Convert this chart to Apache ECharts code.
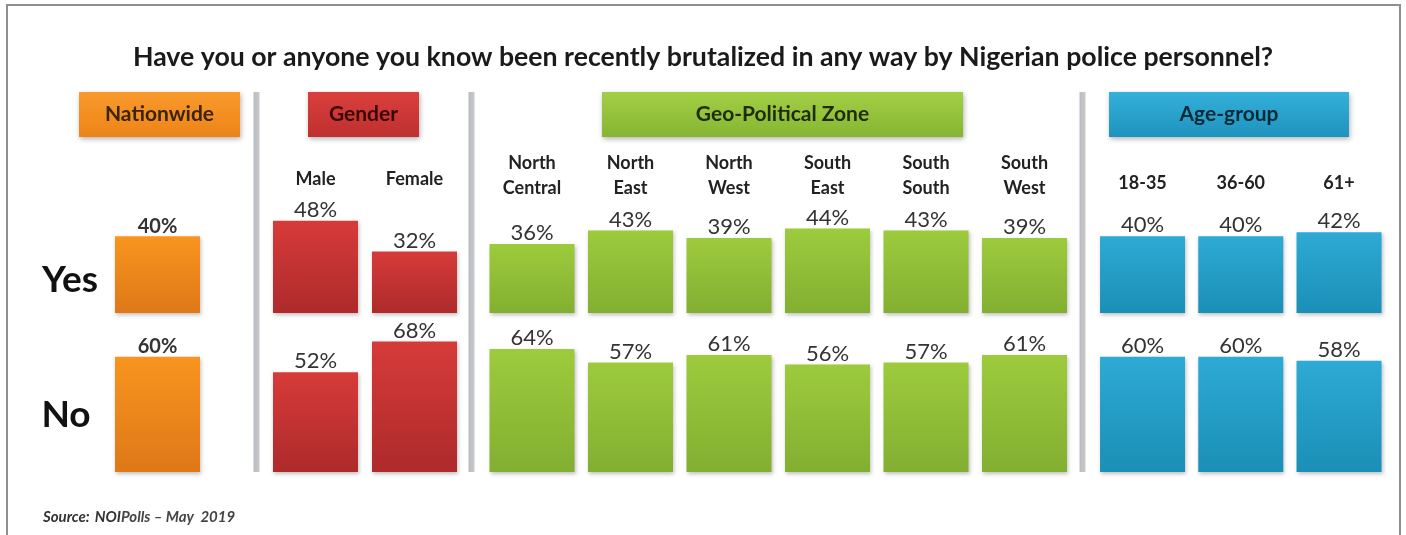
<!DOCTYPE html>
<html>
<head>
<meta charset="utf-8">
<script src="https://cdn.jsdelivr.net/npm/echarts@6/dist/echarts.min.js"></script>
<style>
html,body{margin:0;padding:0;background:#fff;}
#chart{width:1406px;height:535px;}
</style>
</head>
<body>
<div id="chart"></div>
<script>
// ---- Data ----
const titleText = 'Have you or anyone you know been recently brutalized in any way by Nigerian police personnel?';
const groupNames = ['Nationwide', 'Gender', 'Geo-Political Zone', 'Age-group'];
const nationCats = ['Nationwide'];
const genderCats = ['Male', 'Female'];
const geoCats = ['North\nCentral', 'North\nEast', 'North\nWest', 'South\nEast', 'South\nSouth', 'South\nWest'];
const ageCats = ['18-35', '36-60', '61+'];
const nationYes = [40];
const nationNo = [60];
const genderYes = [48, 32];
const genderNo = [52, 68];
const geoYes = [36, 43, 39, 44, 43, 39];
const geoNo = [64, 57, 61, 56, 57, 61];
const ageYes = [40, 40, 42];
const ageNo = [60, 60, 58];
const rowNames = ['Yes', 'No'];

// ---- Layout / styles ----
const FONT = 'Lato, "Open Sans", sans-serif';
const PX = 1.92; // pixels per percent
const yesBottom = 313, noBottom = 472;
const yesMax = 60, noMax = 70;
const groups = [
  {cats: nationCats, yes: nationYes, no: nationNo, left: 108.25, width: 98.5, top: '#F8951F', bot: '#DE7818',
   box: [79, 92, 161, 45], boxColor: ['#FA9A2C', '#EC8418'], boxText: '#3b2305', showCats: false, margin: 0, bold: true},
  {cats: genderCats, yes: genderYes, no: genderNo, left: 266, width: 198, top: '#D63B39', bot: '#AE2A2B',
   box: [308, 92, 111, 45], boxColor: ['#DA3F3D', '#BE302F'], boxText: '#3a0606', showCats: true, margin: 19, bold: false},
  {cats: geoCats, yes: geoYes, no: geoNo, left: 482.75, width: 591, top: '#9DCB3D', bot: '#82AF31',
   box: [602, 92, 361, 45], boxColor: ['#A2CF45', '#86B532'], boxText: '#1e2d08', showCats: true, margin: 22, bold: false},
  {cats: ageCats, yes: ageYes, no: ageNo, left: 1093.4, width: 294.75, top: '#2DAAD5', bot: '#1B8FB6',
   box: [1109, 92, 240, 45], boxColor: ['#34B0DA', '#1E93BD'], boxText: '#082a38', showCats: true, margin: 15, bold: false}
];

const grids = [], xAxes = [], yAxes = [], series = [];
groups.forEach((g, gi) => {
  [0, 1].forEach(r => {
    const idx = grids.length;
    const max = r === 0 ? yesMax : noMax;
    const bottom = r === 0 ? yesBottom : noBottom;
    grids.push({left: g.left, width: g.width, top: bottom - max * PX, height: max * PX, containLabel: false});
    xAxes.push({
      type: 'category', gridIndex: idx, data: g.cats, position: 'top',
      axisLine: {show: false}, axisTick: {show: false}, splitLine: {show: false},
      axisLabel: {
        show: r === 0 && g.showCats, margin: g.margin, verticalAlign: 'middle',
        fontFamily: FONT, fontWeight: 'bold', fontSize: 18, color: '#222', lineHeight: 25, interval: 0
      }
    });
    yAxes.push({type: 'value', gridIndex: idx, min: 0, max: max, show: false, splitLine: {show: false}});
    series.push({
      type: 'bar', xAxisIndex: idx, yAxisIndex: idx, data: r === 0 ? g.yes : g.no,
      barWidth: 85, silent: true,
      itemStyle: {
        color: new echarts.graphic.LinearGradient(0, 0, 0, 1, [{offset: 0, color: g.top}, {offset: 1, color: g.bot}]),
        shadowBlur: 4, shadowOffsetX: 1, shadowOffsetY: 2, shadowColor: 'rgba(0,0,0,0.25)'
      },
      label: {
        show: true, position: 'top', distance: 0, formatter: '{c}%',
        fontFamily: FONT, fontSize: g.bold ? 20 : 22, fontWeight: g.bold ? 'bold' : 'normal', color: '#333'
      }
    });
  });
});

const graphics = [];
// outer frame
graphics.push({type: 'rect', shape: {x: 7, y: 5, width: 1393, height: 545},
  style: {fill: 'none', stroke: '#8f8f8f', lineWidth: 2}, silent: true, z: 0});
// separators
[253.5, 468.5, 1079.5].forEach(x => {
  graphics.push({type: 'rect', shape: {x: x, y: 92, width: 6, height: 380},
    style: {fill: new echarts.graphic.LinearGradient(1, 0, 0, 0, [{offset: 0, color: '#c9c9c9'}, {offset: 1, color: '#b8bcc4'}])}, silent: true});
});
// header boxes
groups.forEach((g, gi) => {
  const [x, y, w, h] = g.box;
  graphics.push({type: 'rect', shape: {x: x, y: y, width: w, height: h},
    style: {fill: new echarts.graphic.LinearGradient(0, 0, 0, 1, [{offset: 0, color: g.boxColor[0]}, {offset: 1, color: g.boxColor[1]}]),
      shadowBlur: 5, shadowOffsetX: 1, shadowOffsetY: 2, shadowColor: 'rgba(0,0,0,0.3)'}, silent: true});
  graphics.push({type: 'text', x: x + w / 2, y: y + h / 2,
    style: {text: groupNames[gi], font: 'bold 21px ' + FONT, fill: g.boxText, textAlign: 'center', textVerticalAlign: 'middle'}, silent: true});
});
// row labels
graphics.push({type: 'text', x: 70, y: 280, style: {text: rowNames[0], font: 'bold 37px ' + FONT, fill: '#111', textAlign: 'center', textVerticalAlign: 'middle'}});
graphics.push({type: 'text', x: 66, y: 415, style: {text: rowNames[1], font: 'bold 37px ' + FONT, fill: '#111', textAlign: 'center', textVerticalAlign: 'middle'}});

const chart = echarts.init(document.getElementById('chart'));
chart.setOption({
  backgroundColor: '#ffffff',
  animation: false,
  title: [
    {text: titleText, left: 'center', top: 39,
     textStyle: {fontFamily: FONT, fontWeight: 'bold', fontSize: 26.7, color: '#1a1a1a'}},
    {text: '{b|Source:} {b|NOI}{n|Polls – May  2019}', left: 38, top: 503,
     textStyle: {rich: {
       b: {fontFamily: FONT, fontSize: 15, fontStyle: 'italic', fontWeight: 'bold', color: '#333'},
       n: {fontFamily: FONT, fontSize: 15, fontStyle: 'italic', color: '#444'}
     }}}
  ],
  grid: grids,
  xAxis: xAxes,
  yAxis: yAxes,
  series: series,
  graphic: graphics
});
</script>
</body>
</html>
